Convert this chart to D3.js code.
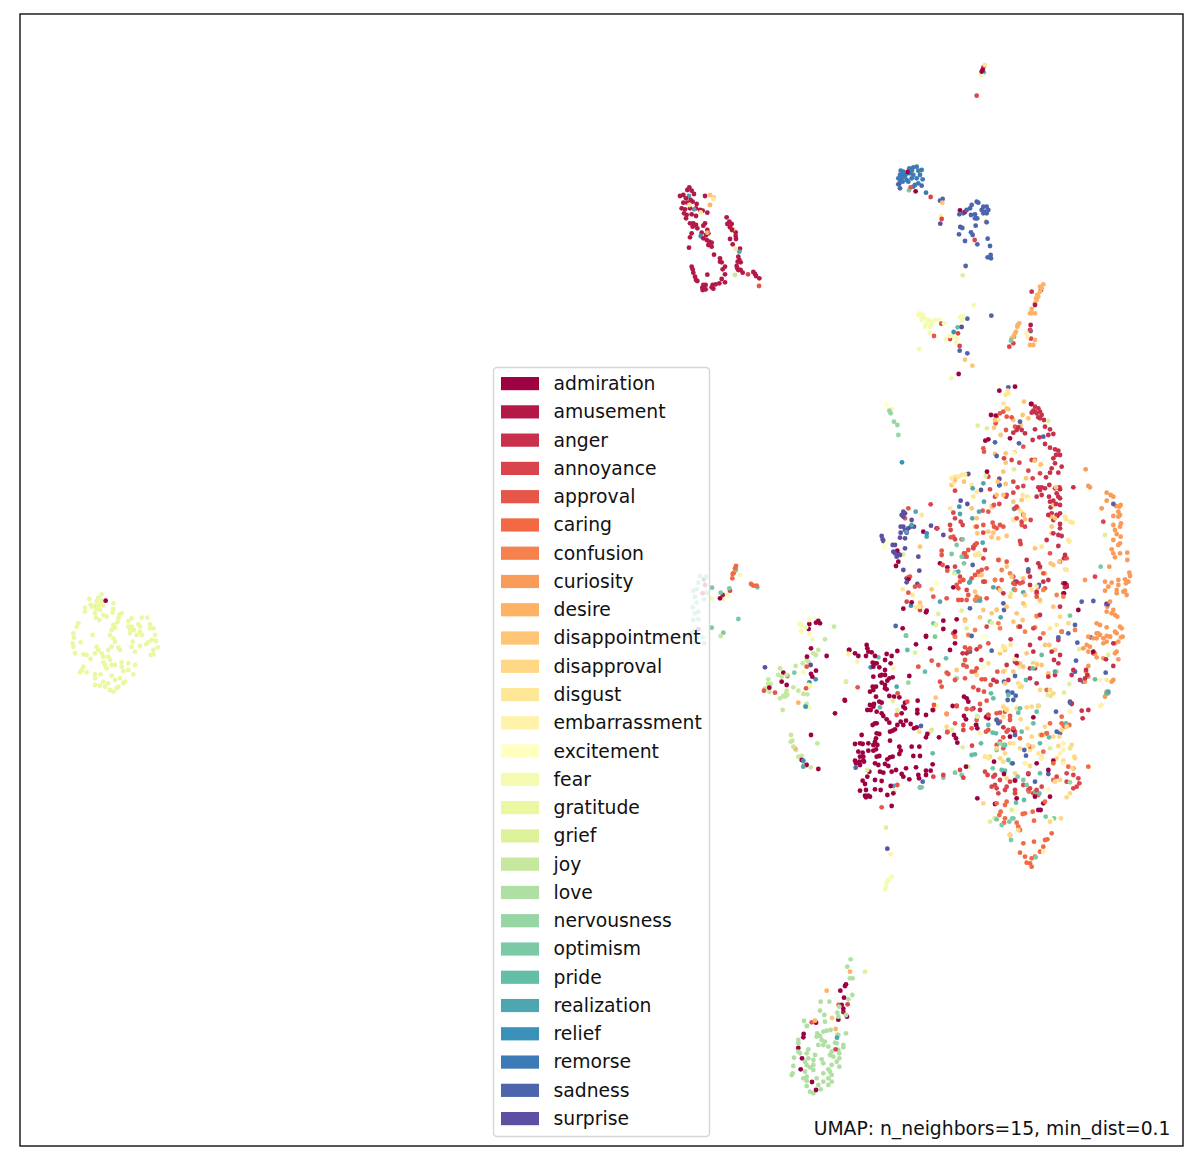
<!DOCTYPE html>
<html><head><meta charset="utf-8"><script src="https://cdn.jsdelivr.net/npm/d3@7"></script>
<style>html,body{margin:0;background:#fff}svg{display:block}</style></head><body><div id="c"></div><script>
const categories=["admiration","amusement","anger","annoyance","approval","caring","confusion","curiosity","desire","disappointment","disapproval","disgust","embarrassment","excitement","fear","gratitude","grief","joy","love","nervousness","optimism","pride","realization","relief","remorse","sadness","surprise"];
const spectralStops=["#9e0142","#d53e4f","#f46d43","#fdae61","#fee08b","#ffffbf","#e6f598","#abdda4","#66c2a5","#3288bd","#5e4fa2"];
const annotation="UMAP: n_neighbors=15, min_dist=0.1";
const admiration=[[2548,1950],[2565,1960],[2575,1968],[2600,1935],[2602,1945],[2598,1968],[2605,1955],[2615,1957],[2625,1968],[2660,1962],[2675,1968],[2655,1980],[2672,1990],[2618,1988],[2625,1990],[2630,1990],[2620,2000],[2638,2002],[2655,2010],[2692,1953],[2748,1933],[2645,2025],[2640,2027],[2655,2025],[2668,2035],[2678,2032],[2620,2030],[2662,2042],[2655,2055],[2645,2048],[2628,2060],[2620,2070],[2610,2075],[2618,2060],[2660,2068],[2655,2065],[2668,2088],[2682,2090],[2698,2092],[2728,2028],[2535,2102],[2628,2090],[2622,2112],[2638,2105],[2645,2108],[2610,2115],[2620,2120],[2602,2130],[2612,2130],[2630,2135],[2645,2140],[2650,2148],[2660,2158],[2668,2168],[2625,2170],[2618,2175],[2630,2170],[2715,2108],[2710,2120],[2715,2125],[2705,2140],[2753,2102],[2752,2130],[2752,2140],[2702,2165],[2718,2162],[2732,2172],[2710,2175],[2692,2175],[2685,2188],[2678,2192],[2670,2195],[2742,2185],[2750,2182],[2778,2145],[2798,2130],[2782,2202],[2778,2212],[2817,2212],[2758,2240],[2698,2240],[2670,2222],[2735,2240],[2630,2200],[2638,2202],[2628,2215],[2625,2225],[2585,2205],[2565,2232],[2580,2230],[2588,2232],[2605,2230],[2620,2235],[2632,2235],[2628,2248],[2575,2255],[2588,2258],[2620,2252],[2580,2270],[2590,2270],[2605,2252],[2565,2282],[2578,2285],[2590,2282],[2568,2290],[2580,2295],[2592,2285],[2630,2270],[2638,2268],[2662,2278],[2670,2272],[2678,2270],[2698,2262],[2702,2252],[2740,2268],[2760,2268],[2655,2292],[2665,2298],[2625,2290],[2635,2295],[2640,2315],[2650,2318],[2675,2315],[2688,2310],[2705,2322],[2710,2330],[2728,2338],[2755,2325],[2757,2335],[2718,2305],[2748,2302],[2778,2312],[2778,2325],[2798,2293],[2792,2312],[2608,2315],[2588,2342],[2595,2352],[2625,2340],[2645,2343],[2672,2358],[2602,2330],[2580,2372],[2598,2370],[2625,2368],[2642,2370],[2662,2385],[2595,2387],[2605,2387],[2598,2392],[2610,2390],[2680,2380],[2675,2418],[2900,2095],[2905,2105],[2892,2090],[2858,2118],[2870,2118],[2892,2148],[2898,2158],[2928,2175],[2932,2185],[2862,2205],[2868,2215],[2872,2228],[2898,2300],[2932,2395],[2985,2412],[2960,2150],[2965,2155],[3100,2152],[3085,2322],[3145,2310],[3160,2282],[3110,2290],[3115,2430],[3122,2430],[3150,2390],[3130,2410],[3105,2390],[3012,2322],[2982,2285],[3050,2395],[3045,2342],[3050,1968],[3280,1955],[3030,2210],[3040,2190],[2850,1950],[2865,1930],[2778,1908],[2790,1945],[2998,1172],[3045,1160],[2973,1245],[2987,1247],[2956,1322],[2965,1318],[3030,1315],[2961,1415],[3093,1212],[2810,1585],[2770,1595],[3172,1547],[3200,1760],[3195,1750],[3192,1780],[3235,1830],[3320,1812],[2860,1762],[2820,1690],[2842,1702],[2688,1698],[2695,1685],[2692,1652],[2725,1738],[2708,1885],[2778,1910],[2830,1862],[2865,1895],[2870,1858],[2830,1887],[2710,1826],[2735,1807],[2780,1832],[2778,1837],[2433,1945],[2421,1970],[2480,1968],[2350,2018],[2345,2045],[2360,2055],[2308,2063],[2433,2022],[2437,2030],[2448,2012],[2547,1950],[2534,2100],[2505,2140],[2433,2205],[2455,2307],[2420,2295],[2405,2280],[2428,1872],[2426,1887],[2448,1868],[2455,1863],[2460,1870],[2160,1795],[2538,2953],[2535,2958],[2521,2972],[2532,2993],[2530,3026],[2525,3015],[2541,3050],[2515,3059],[2448,3068],[2411,3102],[2410,3112],[2395,3144],[2406,3175],[2402,3208],[2436,3246],[2448,3270],[317,1802],[2948,210],[2945,215],[2880,631],[2747,574],[2876,1122],[2723,516]];
const amusement=[[2068,562],[2062,570],[2075,572],[2082,582],[2050,585],[2040,588],[2058,595],[2072,600],[2050,608],[2062,608],[2078,605],[2090,612],[2045,625],[2055,628],[2070,625],[2088,625],[2100,630],[2108,632],[2122,638],[2052,640],[2060,645],[2075,643],[2088,648],[2058,655],[2115,588],[2080,670],[2070,670],[2088,675],[2078,680],[2115,670],[2110,677],[2180,652],[2188,665],[2182,672],[2195,672],[2190,682],[2196,690],[2207,697],[2207,708],[2075,700],[2070,712],[2092,685],[2105,698],[2122,690],[2118,705],[2125,700],[2110,715],[2120,720],[2128,725],[2135,728],[2125,735],[2135,740],[2067,743],[2190,717],[2208,717],[2198,733],[2142,764],[2220,746],[2160,775],[2160,785],[2165,787],[2215,770],[2218,780],[2213,785],[2222,787],[2210,798],[2212,805],[2222,810],[2075,800],[2078,808],[2080,818],[2175,800],[2168,808],[2175,823],[2122,824],[2085,830],[2088,840],[2092,843],[2165,837],[2175,847],[2158,850],[2147,853],[2138,855],[2135,862],[2140,866],[2110,855],[2117,855],[2107,863],[2115,868],[2108,870],[2228,818],[2260,816],[2265,822],[2268,828],[2278,835],[2215,810],[2895,636],[3105,915],[3092,975],[2168,1785],[2530,3036]];
const anger=[[3095,1212],[3105,1220],[3115,1225],[3095,1238],[3110,1240],[3120,1235],[3125,1245],[3115,1252],[3132,1260],[3105,1235],[3100,1232],[3120,1255],[3055,1282],[3065,1290],[3075,1300],[3050,1290],[3040,1298],[3105,1288],[3135,1280],[3150,1288],[3160,1302],[3145,1305],[3098,1320],[3118,1312],[3135,1332],[3150,1343],[3165,1348],[3175,1352],[3168,1365],[3180,1365],[3160,1375],[3165,1390],[3185,1400],[3155,1405],[3150,1418],[3175,1418],[3138,1432],[3178,1462],[3165,1465],[3180,1468],[3148,1455],[3135,1465],[3125,1462],[3115,1462],[3120,1470],[3125,1485],[3110,1490],[3170,1480],[3175,1490],[3180,1495],[3147,1490],[3150,1505],[3160,1502],[3168,1512],[3152,1522],[3180,1515],[3145,1545],[3155,1540],[3170,1545],[3180,1540],[3160,1560],[3180,1572],[3180,1585],[3175,1605],[3185,1608],[3160,1600],[3140,1620],[3175,1638],[3220,1462],[3080,1680],[3115,1690],[3120,1700],[3085,1715],[3090,1730],[3090,1755],[3115,1760],[3110,1775],[3130,1745],[3190,1750],[3200,1755],[3195,1762],[3190,1780],[3145,1740],[3050,1745],[3000,1770],[3010,1780],[3060,1880],[3120,1845],[3180,1820],[3195,1665],[3192,1675],[3050,1990],[3045,1985],[3090,2005],[3105,2005],[3110,2050],[3090,2035],[3180,1965],[3155,1955],[3162,1980],[3175,1990],[3165,2025],[3145,2030],[3210,2105],[3215,2112],[3245,2132],[3265,2130],[3248,2155],[3280,1960],[3318,1978],[3340,1930],[3025,2040],[2990,2045],[2980,2040],[3032,1918],[3090,1935],[3100,1955],[3120,1915],[3175,1920],[3185,1895],[3215,2025],[3240,2040],[3255,2035],[3262,2025],[3340,1998],[3010,2182],[2940,2130],[3020,1995],[2930,1948],[2900,1960],[2920,2125],[2990,2160],[3095,875],[2944,1980],[2888,1960],[3258,2010],[3220,2010],[2115,1755],[2108,1780],[2095,1888]];
const annoyance=[[3095,1380],[3105,1380],[3058,1388],[3035,1380],[3012,1375],[3085,1412],[3120,1420],[3098,1435],[3040,1445],[3053,1462],[3070,1458],[3020,1485],[2998,1512],[2985,1490],[2965,1430],[2970,1468],[2865,1472],[2860,1538],[2865,1555],[2882,1565],[2888,1575],[2792,1513],[2812,1585],[2850,1575],[2852,1590],[2865,1618],[2885,1618],[2925,1635],[2920,1645],[2950,1675],[2950,1598],[3065,1565],[3075,1580],[3060,1623],[3062,1632],[3092,1560],[3070,1545],[3045,1525],[3050,1520],[3018,1490],[3040,1478],[2955,1650],[2950,1745],[2865,1700],[2900,1770],[2880,1730],[2720,1805],[2760,1830],[2960,1880],[2860,1900],[3100,1885],[3285,1730],[3310,1565],[3085,2320],[3045,2340],[3030,2345],[3020,2360],[3000,2340],[2985,2355],[2975,2360],[2990,2365],[2995,2380],[3015,2370],[3045,2380],[3045,2370],[3070,2355],[3085,2370],[3100,2380],[3090,2365],[3110,2370],[3125,2360],[2980,2330],[2985,2325],[2955,2315],[2963,2325],[3170,2330],[3200,2320],[3200,2345],[3220,2325],[3235,2335],[3238,2350],[3230,2360],[3220,2365],[2935,2070],[2890,2190],[2842,2197],[2916,2237],[2880,2310],[2830,2325],[2800,2330],[2890,2333],[2792,591],[2824,971],[2850,1017],[2874,1000],[2879,1038],[2825,657],[2924,720],[2930,287],[2950,202],[3028,1040],[3040,1030],[3090,990],[3093,1016],[2190,1772],[2244,823],[2543,3013],[2507,3148]];
const approval=[[2950,1345],[2952,1355],[3010,1235],[3000,1240],[2990,1250],[3020,1250],[3035,1252],[3070,1340],[2987,1270],[3018,1290],[3045,1280],[2948,1532],[2978,1518],[2982,1515],[2965,1535],[2950,1575],[2978,1568],[2982,1580],[3000,1575],[3010,1580],[2990,1585],[2930,1580],[3050,1555],[3065,1575],[2860,1610],[2852,1612],[2825,1652],[2825,1665],[2895,1660],[2905,1650],[2900,1670],[2920,1640],[2930,1630],[2960,1705],[2945,1710],[2935,1715],[2925,1725],[2915,1735],[2890,1740],[2880,1745],[2870,1755],[2875,1765],[2955,1745],[2985,1740],[3005,1740],[2995,1765],[2960,1795],[2905,1785],[2900,1800],[2885,1800],[2875,1800],[2840,1795],[2800,1790],[2725,1778],[2745,1760],[2758,1758],[2725,1732],[2730,1730],[2715,1555],[2725,1525],[2842,1712],[2828,1695],[2892,1660],[3060,1750],[3068,1747],[3040,1750],[3110,1790],[3110,1780],[3130,1720],[3135,1765],[3150,1660],[3180,1685],[3200,1675],[3020,1685],[2995,1680],[3040,1730],[3045,1752],[2905,1950],[2865,1910],[2895,1980],[2900,2000],[2890,1995],[2915,2015],[2925,2015],[2930,2005],[2840,2018],[2845,2022],[2820,2045],[2825,2060],[2945,2038],[2955,2038],[2920,2062],[2952,2075],[2895,1942],[2910,1945],[2940,1940],[2965,1930],[2992,2015],[2972,2055],[2960,2102],[2940,2112],[2895,2035],[2990,2140],[3000,2138],[3015,2135],[3030,2148],[3000,2165],[2965,2145],[2958,2152],[2890,2175],[2915,2185],[2965,2190],[2958,2195],[3020,2195],[3010,2212],[3000,2225],[2990,2235],[3010,2245],[3025,2190],[3040,2185],[3045,2195],[3030,2160],[2645,2422],[2692,2355],[2573,2062],[2840,2142],[2802,2115],[2800,2130],[2755,2000],[2795,1982],[2815,1995],[2865,2040],[2865,2170],[2842,2195],[2693,2080],[2722,2105],[2690,2145],[2900,2127],[2915,2128],[2870,2118],[2965,2145],[2930,2160],[2420,2000],[2362,2028],[2325,2078],[2418,2065],[2292,2072],[2435,3067],[2516,3015],[2277,858],[2118,868],[2732,562],[2802,1008]];
const caring=[[2208,1698],[2205,1705],[2202,1718],[2198,1722],[2197,1735],[2253,1752],[2260,1757],[2270,1757],[3087,2375],[3115,2385],[3135,2405],[3068,2442],[3075,2440],[3098,2435],[3102,2462],[3050,2468],[3015,2455],[3012,2468],[3060,2490],[3055,2480],[3030,2505],[3070,2530],[3102,2525],[3135,2520],[3142,2518],[3060,2558],[3075,2570],[3130,2540],[3120,2555],[3095,2575],[3090,2590],[3095,2600],[3080,2588],[3105,2570],[3155,2500],[2998,2445],[3002,2435],[3015,2415],[3020,2405],[2990,2410],[3160,2340],[3265,2300],[3220,2305],[3205,2300],[3160,2290],[3130,2255],[3090,2240],[3125,2205],[3140,2200],[3060,2215],[3140,2070],[3150,2170],[3185,2150],[3185,2170],[3192,2180],[3208,2175]];
const confusion=[[3110,1848],[3225,1890],[3185,1895],[3130,1900],[3105,1882],[3075,1895],[3055,1880],[3000,1885],[2925,1890],[2905,1905],[2865,1910],[2895,1860],[2925,1800],[2940,1795],[3170,1785],[3190,1790],[2930,1790],[2985,1740],[3030,1720],[3005,1710],[2995,1870],[3045,1770],[3130,1770]];
const curiosity=[[3320,1478],[3332,1485],[3340,1490],[3320,1502],[3348,1518],[3358,1520],[3362,1515],[3355,1535],[3360,1545],[3340,1548],[3355,1550],[3305,1525],[3363,1570],[3340,1575],[3360,1580],[3345,1590],[3350,1602],[3362,1610],[3340,1620],[3360,1630],[3355,1635],[3335,1648],[3340,1660],[3360,1660],[3345,1672],[3382,1658],[3382,1680],[3328,1700],[3388,1718],[3390,1728],[3375,1738],[3378,1750],[3385,1745],[3355,1740],[3355,1755],[3315,1745],[3335,1748],[3325,1760],[3350,1770],[3315,1772],[3375,1772],[3380,1785],[3370,1775],[3350,1780],[3330,1805],[3322,1820],[3340,1830],[3320,1835],[3345,1845],[3335,1840],[3352,1850],[3290,1870],[3300,1875],[3320,1882],[3360,1880],[3365,1885],[3345,1895],[3295,1900],[3310,1915],[3330,1910],[3368,1910],[3290,1915],[3255,1740],[3257,1408],[3265,1458],[3270,1462],[3290,1900],[3300,1905],[3320,1908],[3330,1910],[3350,1900],[3363,1912],[3265,1910],[3280,1915],[3310,1930],[3320,1925],[3260,1935],[3270,1940],[3250,1945],[3265,1955],[3285,1960],[3355,1925],[3345,1930],[3350,1955],[3345,1960],[3355,1978],[3310,1975],[3290,1972],[3265,1998],[3258,2015],[3265,2030],[3255,2045],[3340,2040],[3335,2045],[3320,2075],[3315,2090],[3325,2080],[2840,2142]];
const desire=[[3130,853],[3125,865],[3120,875],[3115,890],[3110,900],[3105,910],[3095,927],[3095,940],[3105,940],[3058,970],[3052,980],[3048,995],[3040,1010],[3105,1020],[3100,1035],[3090,1035],[3120,860],[3112,885],[3108,895],[3090,940],[3053,975],[3045,1000],[3035,1015],[2737,512],[2550,2915],[2480,2972],[2507,3087],[2445,3062],[2395,2108],[2385,2245],[2412,2295],[2958,665],[2122,698],[2130,615]];
const disappointment=[[3072,1205],[3025,1228],[3085,1255],[3068,1245],[3062,1275],[3040,1260],[3002,1305],[2982,1283],[3017,1360],[3043,1357],[2985,1362],[3017,1388],[3104,1382],[3123,1393],[3078,1435],[2998,1435],[3010,1415],[3017,1452],[2993,1445],[2990,1485],[3010,1485],[3065,1500],[3082,1492],[3040,1505],[3055,1525],[3072,1545],[3075,1558],[2975,1520],[2930,1555],[2915,1525],[2925,1580],[2932,1600],[2965,1595],[2980,1598],[2975,1612],[2995,1615],[3020,1608],[3105,1645],[3152,1550],[3165,1555],[3155,1580],[3155,1600],[3160,1515],[3180,1465],[3168,1462],[3152,1690],[3178,1685],[3160,1695],[3135,1720],[3120,1705],[3070,1735],[3035,1730],[3020,1700],[2998,1680],[2925,1775],[2950,1830],[2990,1830],[3020,1820],[3050,1840],[3070,1810],[3120,1800],[3160,1820],[3068,1860],[3110,1850],[3040,1865],[2975,1840],[2940,1852],[2895,1862],[2945,1725],[2935,1725],[2795,1768],[2760,1640],[2760,1808],[2762,1820],[2892,1445],[2855,1455],[2865,1440],[2985,1260],[3020,1225],[3075,1785],[2141,592],[2130,585],[2200,688],[2807,2093],[2840,2142],[2870,2010],[2865,2040],[3010,1940],[3015,1950],[3000,1960],[3010,2015],[3015,2050],[3040,2015],[3060,1990],[3070,2000],[3080,1960],[3100,1990],[3110,1995],[3125,1995],[3145,2020],[3170,2015],[3135,1935],[3148,1935],[3165,1950],[2895,1079],[2917,1097],[2827,608],[2496,3054]];
const disapproval=[[3060,2060],[3055,2050],[3065,2060],[3010,2120],[3020,2130],[3010,2150],[3050,2125],[3062,2158],[3080,2122],[3095,2120],[3115,2118],[3082,2185],[3095,2210],[3120,2205],[3130,2205],[3135,2180],[3200,2180],[3185,2190],[3178,2210],[3160,2210],[3175,2238],[3210,2245],[3215,2235],[3223,2270],[3225,2275],[3218,2305],[3190,2282],[3170,2275],[3125,2275],[3100,2240],[3085,2235],[3060,2245],[3030,2230],[3015,2260],[3000,2275],[3010,2285],[2990,2245],[2970,2270],[2955,2270],[3075,2290],[3090,2298],[3180,2340],[3165,2345],[3200,2392],[3210,2380],[3020,2335],[3045,2320],[2960,2325],[3055,2490],[3030,2505],[3120,2070],[3150,2070],[3160,2080],[3152,2088],[3183,2455],[3150,2465],[2965,1990],[2930,2025],[2950,2410],[2758,2195],[2840,2180],[2795,2190],[3000,1770],[3030,1790],[3180,1850],[3205,1870]];
const disgust=[[2855,1435],[2865,1430],[2875,1430],[2885,1425],[2895,1423],[2860,1450],[2850,1525],[2765,1545],[2810,1750],[2708,1768],[2738,1785],[2758,1820],[2748,1822],[3205,1620],[3208,1625],[3210,1565],[3218,1568],[3195,1550],[3198,1558],[3195,1708],[3200,1710],[2935,1660],[2940,1665],[2928,1665],[3068,1485],[3082,1490],[2995,1260],[3010,1210],[3025,1180],[3017,1185],[3023,1172],[3063,1535],[3040,1560],[2975,1610],[2915,1455],[2930,1475],[2920,1490],[3120,1395],[3125,1640],[3150,1885],[3170,1875],[2990,1828],[3095,1770],[3110,1760],[3075,1818],[3120,1805],[2925,1665],[2935,1660],[3010,1940],[3015,1945],[3032,1935],[3045,1978],[3060,2000],[3110,1990],[3145,2020],[3060,2055],[3015,2012],[3320,2040],[3010,2122],[3015,2125],[3020,2130],[3210,2135],[2955,2270],[2965,2275],[3040,2230],[3115,2260],[3090,2250],[3125,2270],[2140,597],[2207,747],[2068,615],[2102,637],[2955,195],[2760,522]];
const embarrassment=[[3300,2040],[3305,2115],[3300,2118],[3210,2135],[3075,2290],[3035,2430],[3180,2260],[3190,2290],[2545,1962],[2572,1985],[2680,2005],[2810,2120],[2855,2190],[2938,2200],[3145,2368],[3130,2555],[3125,2275],[2940,2200],[3190,2250],[2660,1215],[2675,1228],[3080,1000],[3082,1010],[2672,2563],[2943,225],[2822,647],[3190,2230]];
const excitement=[[2660,1215],[2650,1640],[2660,1630],[2672,2563],[3045,2430],[3055,2380],[2898,1430],[3085,1500],[3040,1360],[2810,1750],[2945,220],[2950,2000],[3155,2460],[3100,2000],[2950,1910],[3000,1950]];
const fear=[[2760,940],[2755,945],[2765,950],[2770,945],[2775,955],[2765,960],[2785,960],[2795,965],[2805,960],[2818,960],[2780,970],[2795,975],[2775,980],[2790,980],[2832,970],[2790,1000],[2921,915],[2890,950],[2885,962],[2880,952],[2838,1018],[2850,1008],[2860,1008],[2870,1015],[2757,1047],[2853,1135],[2868,1028],[2882,950],[2675,2630],[2665,2640],[2660,2647],[2658,2660],[2655,2668],[2220,1725],[2182,1785],[2135,1795],[2170,1798],[2405,1875],[2418,1882],[2428,1860],[2450,1860],[2403,1893],[2428,1902],[2437,1918],[2410,2017],[2425,2055],[2432,2058],[2428,2123],[2545,1962],[2398,1872]];
const gratitude=[[305,1783],[295,1793],[268,1797],[290,1803],[305,1803],[340,1810],[272,1815],[285,1817],[298,1815],[310,1817],[255,1823],[275,1820],[288,1827],[300,1830],[340,1827],[255,1835],[338,1837],[285,1840],[310,1845],[365,1840],[358,1845],[288,1853],[298,1860],[355,1855],[320,1850],[385,1863],[395,1855],[425,1853],[442,1853],[352,1867],[340,1875],[345,1883],[395,1880],[385,1880],[415,1873],[420,1880],[450,1873],[235,1870],[230,1880],[335,1890],[390,1890],[402,1890],[420,1895],[450,1885],[460,1885],[220,1900],[278,1905],[330,1905],[390,1900],[410,1905],[425,1905],[465,1905],[222,1913],[340,1915],[345,1925],[398,1925],[455,1920],[445,1927],[468,1923],[218,1930],[242,1927],[220,1940],[355,1943],[335,1940],[395,1940],[420,1938],[438,1933],[473,1942],[225,1960],[360,1950],[290,1940],[295,1950],[325,1950],[405,1955],[460,1950],[250,1963],[260,1965],[285,1960],[305,1960],[310,1970],[325,1970],[460,1963],[452,1965],[272,1977],[330,1980],[310,1987],[365,1987],[385,1990],[405,1995],[315,1995],[335,1995],[250,2000],[345,1995],[365,2000],[245,2010],[240,2017],[320,2005],[385,2010],[400,2023],[260,2017],[335,2027],[370,2013],[285,2023],[302,2023],[360,2035],[285,2035],[310,2045],[345,2040],[375,2045],[325,2050],[285,2055],[300,2057],[315,2060],[355,2060],[370,2050],[330,2070],[340,2075],[350,2065]];
const grief=[[2933,1277],[2961,1285],[2957,1427],[3042,1408],[3145,1263],[3315,1605],[2710,1663],[2863,1720],[2815,1842],[2808,1875],[2900,1885],[3033,1780],[3040,1560],[2885,1832],[2975,1868],[2538,2045],[2678,2102],[2692,2130],[2792,2195],[2888,2242],[2865,2318],[2905,2300],[2970,2465],[2985,2455],[3035,2430],[3143,2085],[3192,2078],[3208,2052],[3238,1948],[3325,1965],[2745,1958],[2805,1910],[2658,2483],[2683,2375],[2602,2310],[2932,2150],[2855,2190],[3150,2245],[3210,2245],[2888,826],[2595,2915]];
const joy=[[2340,2005],[2387,1998],[2408,1990],[2420,1980],[2425,1985],[2335,2025],[2345,2030],[2360,2025],[2305,2038],[2305,2052],[2312,2052],[2295,2065],[2308,2075],[2380,2062],[2395,2072],[2360,2072],[2358,2082],[2350,2088],[2362,2085],[2410,2082],[2422,2083],[2340,2095],[2355,2090],[2348,2130],[2420,2112],[2415,2118],[2440,1960],[2448,1965],[2455,1950],[2502,1880],[2475,1918],[2538,2045],[2373,2205],[2377,2222],[2372,2225],[2380,2240],[2388,2250],[2395,2270],[2405,2268],[2452,2230],[2432,2302],[2205,825],[2162,1908],[2422,3078]];
const love=[[2552,2878],[2542,2900],[2550,2935],[2558,2935],[2557,2985],[2545,2998],[2462,3005],[2488,3005],[2518,3020],[2460,3032],[2512,3038],[2473,3045],[2515,3050],[2412,3063],[2475,3065],[2538,3045],[2470,3095],[2480,3092],[2492,3090],[2452,3100],[2460,3108],[2450,3110],[2538,3100],[2465,3120],[2475,3125],[2515,3105],[2395,3120],[2505,3128],[2455,3135],[2470,3135],[2395,3130],[2510,3130],[2530,3135],[2485,3140],[2395,3155],[2530,3142],[2425,3148],[2515,3150],[2495,3155],[2420,3160],[2445,3165],[2400,3160],[2490,3165],[2518,3160],[2500,3170],[2425,3175],[2465,3178],[2382,3173],[2415,3185],[2440,3180],[2518,3175],[2510,3185],[2470,3190],[2420,3195],[2380,3198],[2440,3195],[2495,3195],[2518,3200],[2430,3202],[2485,3208],[2415,3215],[2440,3210],[2378,3220],[2375,3225],[2470,3220],[2490,3215],[2420,3230],[2450,3235],[2495,3225],[2410,3235],[2485,3235],[2470,3245],[2495,3245],[2420,3242],[2420,3258],[2455,3255],[2485,3255],[2462,3268],[2430,3275],[2440,3280],[2512,3105],[2420,3078]];
const nervousness=[[2668,1232],[2672,1240],[2682,1265],[2692,1275],[2695,1305],[3000,2230],[2870,2035],[3210,2347],[2725,2048]];
const optimism=[[2208,1710],[2272,1762],[2136,1763],[2188,1765],[2162,1778],[2215,1857],[2135,1883],[2170,1898],[2383,2018],[2870,1635],[2888,1618],[2855,1662],[2885,1670],[2892,1690],[3210,1847],[2800,1870],[2718,1907],[2805,1910],[3302,1700],[2970,1865],[2727,571],[3037,2455],[2985,2455],[2990,2458],[3005,2475],[3028,2465],[3040,2455],[3137,2450],[3162,2455],[3033,2520],[3107,2572],[2765,2362],[2760,2363],[2830,2333],[2885,2325],[2865,2318],[2978,2305],[3053,2330],[3070,2340],[3080,2355],[2990,2250],[3010,2235],[3033,1022],[2100,1728],[2118,1730],[2095,1748],[2080,1772],[2090,1768],[2120,1778],[2085,1790],[2090,1808],[2112,1798],[2078,1822],[2095,1835],[2085,1840],[2080,1860],[2095,1858],[2070,1900],[2080,1895],[2108,1912],[2112,1930],[2078,1930],[2090,1915],[2065,1908]];
const pride=[[2718,1907],[2722,1950],[2635,1972],[2838,1975],[2775,2015],[2640,2122],[2973,2080],[2980,2095],[3025,2085],[3078,2040],[3125,1965],[3098,2005],[3285,2038],[3320,2080],[3060,2125],[3115,2118],[3055,2138],[3100,2170],[3110,2135],[2988,2200],[2978,2198],[2965,2175],[2918,2127],[2932,2150],[2930,2175],[3065,2195],[3147,2212],[3198,2170],[3120,2230],[2943,2230],[3015,2235],[2915,2265],[2925,2263],[2798,2260],[3025,2280],[3035,2290],[3005,2310],[3015,2312],[3120,2320],[3105,2375],[3118,2380],[3072,2400],[3048,2408],[2873,982]];
const realization=[[2747,1535],[2735,1575],[2720,1595],[2780,1610],[2918,1465],[2950,1450],[2917,1555],[2937,1535],[2880,1542],[2952,1505],[3042,1527],[2948,1628],[2892,1670],[2875,1715],[2865,1718],[2910,1745],[2980,1762],[3070,1777],[2820,1805],[2928,1802],[2940,1802],[3002,1852],[2067,588],[2082,628],[2218,755],[2932,655],[2951,217],[3042,1768],[2908,1748],[2690,2060],[2680,2358],[2760,2362],[3320,2080],[3325,2075],[2511,3113],[2410,2300],[3165,2015],[3042,1010]];
const relief=[[2878,1520],[2733,1817],[2780,1600],[2706,1387],[2102,708],[2612,2002],[2447,2038],[2428,2047],[2417,2120],[2410,2282],[2861,996]];
const remorse=[[2750,500],[2740,502],[2728,505],[2702,512],[2710,515],[2755,512],[2765,510],[2700,525],[2715,528],[2730,520],[2740,525],[2695,535],[2705,535],[2720,540],[2735,535],[2750,535],[2768,538],[2708,545],[2725,545],[2755,550],[2745,555],[2740,560],[2697,553],[2778,578],[2730,510],[2710,525],[2760,525],[2722,520],[2712,530],[2700,545],[2735,512]];
const sadness=[[2930,605],[2915,615],[2935,608],[2910,625],[2900,630],[2890,640],[2878,643],[2950,620],[2960,620],[2945,630],[2955,635],[2960,640],[2950,640],[2965,630],[2913,645],[2925,643],[2925,655],[2930,655],[2960,667],[2927,677],[2887,684],[2877,703],[2913,697],[2918,705],[2895,723],[2932,733],[2963,716],[2970,738],[2963,772],[2972,765],[2973,775],[2897,798],[2974,947],[2902,956],[2879,1052],[2902,1060],[2828,597],[2820,602],[2700,565],[2695,553],[2765,557],[2985,1327],[2990,1368],[3057,1330],[3025,1162],[3130,1310],[3060,1265],[2998,1455],[2918,1695],[3010,1810],[3012,1830],[2910,1825],[2915,1908],[3045,1745],[3085,1708],[3117,1755],[3245,1805],[3280,1803],[3272,1912],[3225,1875],[3340,1512],[3175,1912],[2687,1878],[3023,2075],[3037,2078],[3047,2087],[3040,2100],[3023,2100],[3012,2045],[3045,2028],[2975,1952],[2910,1955],[3045,2205],[2995,2168],[2990,2160],[3168,2135],[3180,2200],[3170,2195],[3140,2200],[3073,2250],[3078,2267],[3038,2290],[3105,2345],[3145,2322],[3215,2110],[3210,2108],[3232,1928],[3228,1982],[3225,2015],[3250,2045],[3317,2018],[3205,1900],[2763,2178],[2768,2345],[2567,2303],[2995,2170],[3092,993],[2112,1738]];
const surprise=[[2710,1535],[2715,1540],[2705,1545],[2710,1550],[2735,1560],[2702,1580],[2710,1580],[2725,1585],[2732,1580],[2742,1580],[2715,1590],[2720,1598],[2702,1598],[2715,1615],[2700,1613],[2645,1608],[2648,1618],[2650,1623],[2678,1635],[2685,1635],[2715,1645],[2680,1655],[2685,1660],[2695,1662],[2690,1670],[2700,1665],[2755,1670],[2710,1710],[2758,1712],[2720,1747],[2752,1752],[2793,1577],[2830,1605],[2902,1512],[2882,1502],[2998,1437],[2998,1456],[2905,1422],[2943,1470],[2720,1735],[3323,1813],[3320,1815],[2295,2002],[2432,1995],[2881,681],[2885,981],[3123,870],[2662,2546],[2821,671]];
const xDomain=[60,3549],yDomain=[42,3438];
const x=d3.scaleLinear().domain(xDomain).range([20,1183]),y=d3.scaleLinear().domain(yDomain).range([14,1146]);
const series=[admiration,amusement,anger,annoyance,approval,caring,confusion,curiosity,desire,disappointment,disapproval,disgust,embarrassment,excitement,fear,gratitude,grief,joy,love,nervousness,optimism,pride,realization,relief,remorse,sadness,surprise];
const spectral=d3.piecewise(d3.interpolateRgb,spectralStops);
const color=d3.scaleOrdinal(categories,categories.map((_,i)=>spectral(i/(categories.length-1))));
const svg=d3.select("#c").append("svg").attr("width",1196).attr("height",1166).style("font-family","'DejaVu Sans'");
svg.append("rect").attr("x",20).attr("y",14).attr("width",1163).attr("height",1132).attr("fill","#fff").attr("stroke","#111").attr("stroke-width",1.4);
const pts=series.flatMap((s,i)=>s.map(p=>({p,c:categories[i]}))).map((d,i)=>({...d,o:(i*7919)%1009})).sort((a,b)=>a.o-b.o);
svg.append("g").selectAll("circle").data(pts).join("circle").attr("cx",d=>x(d.p[0])).attr("cy",d=>y(d.p[1])).attr("r",2.4).attr("fill",d=>color(d.c));
const lg=svg.append("g");
lg.append("rect").attr("x",493.5).attr("y",367.5).attr("width",216).attr("height",769).attr("rx",3.5).attr("fill","rgba(255,255,255,0.8)").attr("stroke","#d6d6d6").attr("stroke-width",1.4);
const row=d3.scalePoint().domain(categories).range([384,1119]);
const items=lg.selectAll("g").data(categories).join("g").attr("transform",d=>`translate(0,${row(d)})`);
items.append("rect").attr("x",501).attr("y",-7).attr("width",38).attr("height",13.2).attr("fill",d=>color(d));
items.append("text").attr("x",553.5).attr("y",6).attr("font-size",18.75).attr("fill","#111").text(d=>d);
svg.append("text").attr("x",1170.5).attr("y",1135).attr("text-anchor","end").attr("font-size",18.75).attr("fill","#111").text(annotation);
</script></body></html>
